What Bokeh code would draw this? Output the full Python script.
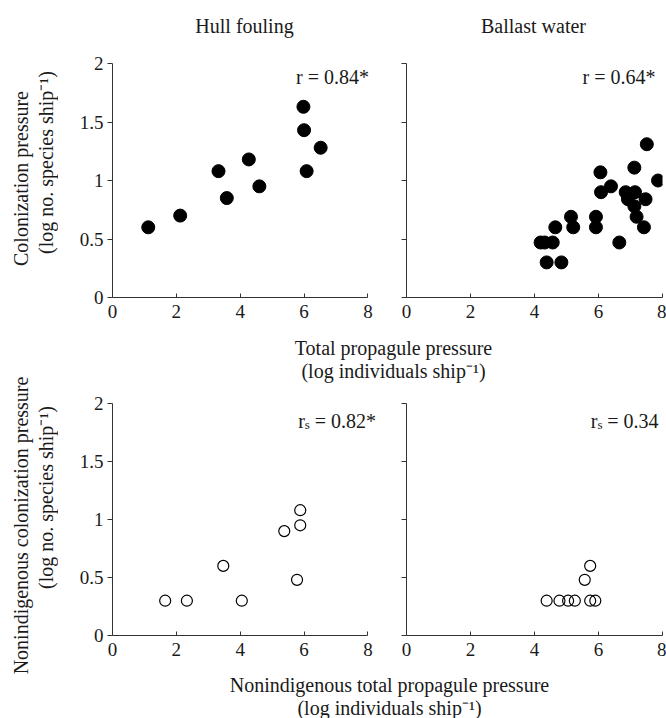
from math import pi
from bokeh.plotting import figure
from bokeh.layouts import row, column
from bokeh.models import Range1d, FixedTicker, Label
from bokeh.core.properties import value
from bokeh.embed import file_html
from bokeh.resources import INLINE

FONT = "Liberation Serif"
INK = "#1a1a1a"

# ---------------- data ----------------
panel_titles = ["Hull fouling", "Ballast water"]
x_ticks = [0, 2, 4, 6, 8]
y_ticks = [0, 0.5, 1, 1.5, 2]
y_tick_labels = ["0", "0.5", "1", "1.5", "2"]

y_label_top = "Colonization pressure"
y_label_bottom = "Nonindigenous colonization pressure"
y_label_unit = "(log no. species ship\u207b\u00b9)"
x_label_top = "Total propagule pressure"
x_label_bottom = "Nonindigenous total propagule pressure"
x_label_unit = "(log individuals ship\u207b\u00b9)"

hull_total_x = [1.12, 2.12, 3.32, 3.58, 4.27, 4.60, 5.98, 6.00, 6.08, 6.52]
hull_total_y = [0.60, 0.70, 1.08, 0.85, 1.18, 0.95, 1.63, 1.43, 1.08, 1.28]

ballast_total_x = [4.19, 4.32, 4.57, 4.38, 4.84, 4.65, 5.14, 5.21, 5.92, 5.92,
                   6.06, 6.08, 6.39, 6.65, 6.85, 6.92, 7.12, 7.14, 7.12, 7.19,
                   7.47, 7.42, 7.51, 7.86]
ballast_total_y = [0.47, 0.47, 0.47, 0.30, 0.30, 0.60, 0.69, 0.60, 0.69, 0.60,
                   1.07, 0.90, 0.95, 0.47, 0.90, 0.84, 1.11, 0.90, 0.78, 0.69,
                   0.84, 0.60, 1.31, 1.00]

hull_nis_x = [1.65, 2.33, 3.47, 4.05, 5.38, 5.88, 5.88, 5.78]
hull_nis_y = [0.30, 0.30, 0.60, 0.30, 0.90, 1.08, 0.95, 0.48]

ballast_nis_x = [4.38, 4.78, 5.05, 5.26, 5.74, 5.90, 5.57, 5.74]
ballast_nis_y = [0.30, 0.30, 0.30, 0.30, 0.30, 0.30, 0.48, 0.60]

stat_names = ["r", "r", "r", "r"]
stat_subs = ["", "", "s", "s"]
stat_values = ["= 0.84*", "= 0.64*", "= 0.82*", "= 0.34"]


def blank(w, h, flip=True):
    p = figure(width=w, height=h, x_range=Range1d(0, w),
               y_range=Range1d(h, 0) if flip else Range1d(0, h),
               x_axis_type=None, y_axis_type=None, min_border=0,
               output_backend="svg", toolbar_location=None, title=None)
    p.outline_line_color = None
    p.grid.visible = False
    return p


def panel(xs, ys, filled, left, idx, dx, dy, height, frame_h):
    # left panels get a little extra frame room on the right (axis bounded to 0-8)
    x_end = 8.3 if left else 8
    p = figure(width=329 if left else 279, height=height,
               x_range=Range1d(0, x_end), y_range=Range1d(0, 2),
               min_border_left=54 if left else 19,
               min_border_right=10 if left else 4,
               min_border_top=9, min_border_bottom=height - 9 - frame_h,
               output_backend="svg", toolbar_location=None, title=None)
    p.outline_line_color = None
    p.grid.visible = False
    for ax in (p.xaxis[0], p.yaxis[0]):
        ax.axis_line_color = "#333333"
        ax.major_tick_line_color = "#333333"
        ax.minor_tick_line_color = None
        ax.major_label_text_font = FONT
        ax.major_label_text_font_size = "19px"
        ax.major_label_text_color = INK
    p.xaxis.bounds = (x_ticks[0], x_ticks[-1])
    p.xaxis.ticker = FixedTicker(ticks=x_ticks)
    p.xaxis.major_tick_in = 4
    p.xaxis.major_tick_out = 0
    p.xaxis.major_label_standoff = 7
    p.yaxis.ticker = FixedTicker(ticks=y_ticks)
    p.yaxis.major_tick_in = 0
    p.yaxis.major_tick_out = 5
    p.yaxis.major_label_standoff = 4
    if left:
        p.yaxis.major_label_overrides = {t: s for t, s in zip(y_ticks, y_tick_labels)}
    else:
        p.yaxis.major_label_overrides = {t: "" for t in y_ticks}

    if filled:
        p.scatter(xs, ys, marker="circle", size=13, fill_color="black",
                  line_color="black")
    else:
        p.scatter(xs, ys, marker="circle", size=11, fill_color=None,
                  line_color="black", line_width=1.2)

    common = dict(x=8, y=2, text_font=FONT, text_color=INK,
                  text_align="right", text_baseline="alphabetic")
    if stat_subs[idx]:
        vw = 61 if idx == 2 else 51
        p.add_layout(Label(text=stat_values[idx], text_font_size="20px",
                           x_offset=dx, y_offset=dy, **common))
        p.add_layout(Label(text=stat_subs[idx], text_font_size="13px",
                           x_offset=dx - vw - 5, y_offset=dy - 4, **common))
        p.add_layout(Label(text=stat_names[idx], text_font_size="20px",
                           x_offset=dx - vw - 10, y_offset=dy, **common))
    else:
        p.add_layout(Label(text=stat_names[idx] + " " + stat_values[idx],
                           text_font_size="20px", x_offset=dx, y_offset=dy,
                           **common))
    return p


tl = panel(hull_total_x, hull_total_y, True, True, 0, 1, -13, 277, 234)
tr = panel(ballast_total_x, ballast_total_y, True, False, 1, -7, -13, 277, 234)
bl = panel(hull_nis_x, hull_nis_y, False, True, 2, 8, -17, 275, 232)
br = panel(ballast_nis_x, ballast_nis_y, False, False, 3, -4, -17, 275, 232)

tkw = dict(text_font=value(FONT), text_font_size=value("20px"),
           text_color=INK, text_align="center", text_baseline="alphabetic")

header = blank(608, 54)
header.text(x=[186, 475], y=[25, 25], text=panel_titles, **tkw)

middle = blank(608, 63)
middle.text(x=[335, 335], y=[16, 39], text=[x_label_top, x_label_unit], **tkw)

footer = blank(608, 49)
footer.text(x=[331, 331], y=[15, 38], text=[x_label_bottom, x_label_unit], **tkw)

ylab = blank(58, 718, flip=False)
ylab.text(x=[20, 45, 20, 45], y=[718 - 178, 718 - 162, 718 - 525, 718 - 497],
          text=[y_label_top, y_label_unit, y_label_bottom, y_label_unit],
          angle=pi / 2, text_font=value(FONT), text_font_size=value("20px"),
          text_color=INK, text_align="center", text_baseline="middle")

layout = row(ylab, column(header, row(tl, tr), middle, row(bl, br), footer))

open("out.html", "w").write(file_html(layout, INLINE))
